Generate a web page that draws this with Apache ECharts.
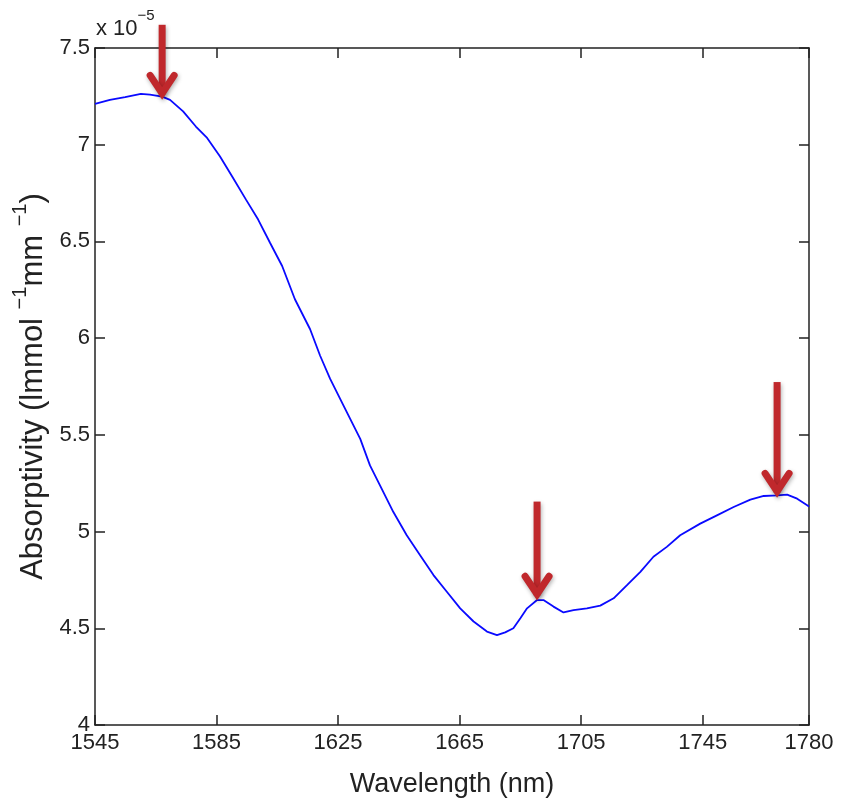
<!DOCTYPE html>
<html>
  <head>
    <meta charset="utf-8" />
    <title>Absorptivity</title>
    <script src="https://cdn.jsdelivr.net/npm/echarts@6/dist/echarts.min.js"></script>
    <style>
      html,
      body {
        margin: 0;
        padding: 0;
        background: #fff;
      }
      #chart {
        width: 847px;
        height: 803px;
      }
    </style>
  </head>
  <body>
    <div id="chart"></div>
    <script>
      // wavelength (nm) and absorptivity (x 1e-5)
      const wavelength = [
        1545, 1549.9, 1554.9, 1560.1, 1563.1, 1567.1, 1569.7, 1574, 1578.2, 1581.9, 1586.1, 1590.1, 1594.7, 1598.7,
        1602.6, 1606.6, 1610.8, 1615.8, 1619.1, 1622.4, 1626.8, 1632.3, 1635.5, 1638.8, 1643.2, 1647.6, 1652, 1656.4,
        1660.8, 1665.2, 1669.6, 1674, 1677.3, 1680, 1682.7, 1685, 1687.2, 1690.5, 1692.6, 1695.9, 1699.2, 1702.5,
        1706.9, 1711.3, 1715.7, 1720.1, 1724.5, 1728.8, 1733.2, 1737.6, 1744.2, 1749.7, 1755.2, 1760.7, 1765.1,
        1769.5, 1772.8, 1776.1, 1779.4, 1780
      ]
      const absorptivity = [
        7.211, 7.232, 7.246, 7.263, 7.259, 7.249, 7.232, 7.172, 7.094, 7.035, 6.94, 6.837, 6.716, 6.613, 6.493, 6.373,
        6.201, 6.046, 5.909, 5.789, 5.651, 5.479, 5.342, 5.239, 5.101, 4.981, 4.878, 4.775, 4.689, 4.603, 4.535, 4.483,
        4.465, 4.479, 4.5, 4.552, 4.603, 4.646, 4.646, 4.612, 4.582, 4.594, 4.603, 4.617, 4.655, 4.723, 4.792, 4.87,
        4.921, 4.981, 5.041, 5.084, 5.127, 5.165, 5.184, 5.187, 5.191, 5.17, 5.136, 5.129
      ]
      const xTicks = [1545, 1585, 1625, 1665, 1705, 1745, 1780]

      // red arrows: x position, top of shaft, tip
      const arrowX = [1567.1, 1690.5, 1769.5]
      const arrowTop = [7.62, 5.155, 5.773]
      const arrowTip = [7.245, 4.655, 5.187]

      const font = "Liberation Sans, Arial, sans-serif"
      const axisColor = "#222"

      const myChart = echarts.init(document.getElementById("chart"), null, { renderer: "canvas" })

      const lineData = wavelength.map((w, i) => [w, absorptivity[i]])
      const arrowData = arrowX.map((x, i) => [x, arrowTop[i], arrowTip[i]])

      const option = {
        animation: false,
        backgroundColor: "#fff",
        grid: {
          left: 95,
          right: 38,
          top: 48,
          bottom: 76
        },
        graphic: [
          {
            type: "text",
            left: 96,
            top: 8,
            style: {
              text: "{a|x 10}{b|−5}",
              rich: {
                a: { fontFamily: font, fontSize: 22, fill: axisColor, lineHeight: 32, verticalAlign: "bottom" },
                b: { fontFamily: font, fontSize: 15, fill: axisColor, lineHeight: 32, verticalAlign: "top" }
              }
            }
          }
        ],
        xAxis: [
          {
            type: "value",
            min: 1545,
            max: 1780,
            position: "bottom",
            name: "Wavelength (nm)",
            nameLocation: "middle",
            nameGap: 46,
            nameTextStyle: { fontFamily: font, fontSize: 27, color: axisColor },
            axisLine: { show: true, lineStyle: { color: axisColor, width: 1.5 } },
            axisTick: { inside: true, length: 10, customValues: xTicks, lineStyle: { color: axisColor, width: 1.5 } },
            axisLabel: {
              customValues: xTicks,
              formatter: (v) => String(v),
              fontFamily: font,
              fontSize: 22,
              color: axisColor,
              margin: 7
            },
            splitLine: { show: false }
          },
          {
            type: "value",
            min: 1545,
            max: 1780,
            position: "top",
            axisLine: { show: true, lineStyle: { color: axisColor, width: 1.5 } },
            axisTick: { inside: true, length: 10, customValues: xTicks, lineStyle: { color: axisColor, width: 1.5 } },
            axisLabel: { show: false },
            splitLine: { show: false }
          }
        ],
        yAxis: [
          {
            type: "value",
            min: 4,
            max: 7.5,
            interval: 0.5,
            position: "left",
            name: "{n|Absorptivity (lmmol }{s|−1}{n|mm }{s|−1}{n|)}",
            nameLocation: "middle",
            nameGap: 46,
            nameTextStyle: {
              rich: {
                n: { fontFamily: font, fontSize: 31, color: axisColor, lineHeight: 38, verticalAlign: "bottom" },
                s: { fontFamily: font, fontSize: 20, color: axisColor, lineHeight: 38, verticalAlign: "top" }
              }
            },
            axisLine: { show: true, lineStyle: { color: axisColor, width: 1.5 } },
            axisTick: { inside: true, length: 10, lineStyle: { color: axisColor, width: 1.5 } },
            axisLabel: { fontFamily: font, fontSize: 22, color: axisColor, margin: 5 },
            splitLine: { show: false }
          },
          {
            type: "value",
            min: 4,
            max: 7.5,
            interval: 0.5,
            position: "right",
            axisLine: { show: true, lineStyle: { color: axisColor, width: 1.5 } },
            axisTick: { inside: true, length: 10, lineStyle: { color: axisColor, width: 1.5 } },
            axisLabel: { show: false },
            splitLine: { show: false }
          }
        ],
        series: [
          {
            type: "line",
            data: lineData,
            showSymbol: false,
            symbol: "none",
            smooth: false,
            lineStyle: { color: "#0a0aff", width: 1.8 },
            z: 2
          },
          {
            // 箭头
            type: "custom",
            data: arrowData,
            clip: false,
            z: 5,
            renderItem: function (params, api) {
              const top = api.coord([api.value(0), api.value(1)])
              const tip = api.coord([api.value(0), api.value(2)])
              const style = {
                stroke: "#c0282c",
                lineWidth: 7,
                fill: null,
                shadowBlur: 4,
                shadowColor: "rgba(0,0,0,0.3)",
                shadowOffsetX: 1,
                shadowOffsetY: 2
              }
              return {
                type: "group",
                children: [
                  {
                    type: "line",
                    shape: { x1: top[0], y1: top[1], x2: tip[0], y2: tip[1] - 3 },
                    style: style
                  },
                  {
                    type: "polyline",
                    shape: {
                      points: [
                        [tip[0] - 12, tip[1] - 22],
                        [tip[0], tip[1] - 4],
                        [tip[0] + 12, tip[1] - 22]
                      ]
                    },
                    style: Object.assign({}, style, { lineJoin: "miter", lineCap: "round" })
                  }
                ]
              }
            }
          }
        ]
      }

      myChart.setOption(option)
    </script>
  </body>
</html>
